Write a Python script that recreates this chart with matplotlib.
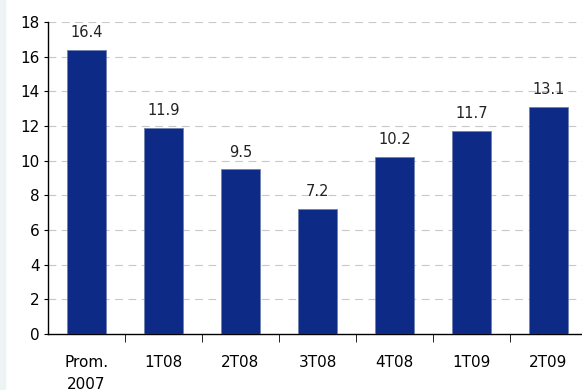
import numpy as np
import matplotlib.pyplot as plt
from matplotlib.patches import Rectangle

categories = ["Prom.\n2007", "1T08", "2T08", "3T08", "4T08", "1T09", "2T09"]
values = [16.4, 11.9, 9.5, 7.2, 10.2, 11.7, 13.1]

fig = plt.figure(figsize=(5.82, 3.9), dpi=100)
fig.patches.append(Rectangle((0, 0), 5 / 582, 1, transform=fig.transFigure,
                             color="#eef4f4", zorder=0))
ax = fig.add_axes([48 / 582, 56 / 390, 539 / 582, 312 / 390])

x = np.arange(len(categories))
bars = ax.bar(x, values, width=0.51, color="#0e2a87", edgecolor="#7080b0",
              linewidth=0.6, zorder=3)

for xi, v in zip(x, values):
    ax.annotate(f"{v:.1f}", (xi, v), xytext=(0, 7), textcoords="offset points",
                ha="center", va="bottom", fontsize=10.5, color="#222222")

ax.set_xlim(-0.5, len(categories) - 0.5)
ax.set_ylim(0, 18)
ax.set_yticks(np.arange(0, 19, 2))
ax.set_xticks(x)
ax.set_xticklabels(categories, linespacing=1.6)
ax.set_xticks(np.arange(0.5, len(categories) - 0.5, 1), minor=True)
ax.tick_params(axis="x", which="major", length=0, pad=15, labelsize=11)
ax.tick_params(axis="x", which="minor", length=6, direction="out")
ax.tick_params(axis="y", length=3, direction="out", labelsize=11, pad=3)

for y in np.arange(2, 19, 2):
    ax.axhline(y, color="#c8c8c8", linestyle=(0, (7, 5)), linewidth=0.8, zorder=1)

for s in ["top", "right"]:
    ax.spines[s].set_visible(False)
ax.spines["left"].set_linewidth(1)
ax.spines["bottom"].set_linewidth(1)

fig.savefig("out.png", dpi=100)
